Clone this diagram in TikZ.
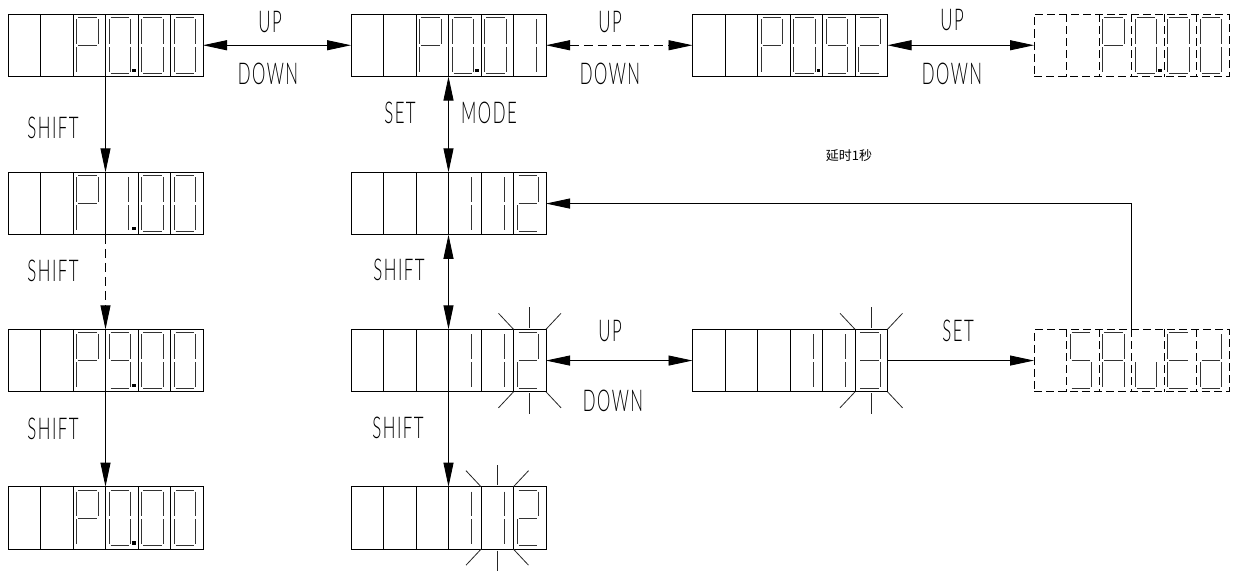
\documentclass[tikz,border=0pt]{standalone}
\usepackage{fontspec}
\newfontfamily\cadfont[FakeStretch=0.56,LetterSpace=5]{Lato Light}
\newfontfamily\cjkfont{Noto Sans CJK SC}
\usetikzlibrary{arrows.meta}

% seven-segment pieces (cell-relative, y downwards)
\newcommand\segdefa{\draw[sg] (5,3.5) -- (23.5,3.5);}
\newcommand\segdefb{\draw[sg] (25,5) -- (25,29.75);}
\newcommand\segdefc{\draw[sg] (25,32.75) -- (25,57.5);}
\newcommand\segdefd{\draw[sg] (5,59) -- (23.5,59);}
\newcommand\segdefe{\draw[sg] (3.5,32.75) -- (3.5,57.5);}
\newcommand\segdeff{\draw[sg] (3.5,5) -- (3.5,29.75);}
\newcommand\segdefg{\draw[sg] (5,31.25) -- (23.5,31.25);}
\newcommand\segdefj{\draw[sg] (23,5) -- (23,29.75);}
\newcommand\segdefk{\draw[sg] (23,32.75) -- (23,57.5);}
\newcommand\segdefp{\fill[black] (26.5,54.5) rectangle (30,58);}

\def\chP{a,b,e,f,g}
\def\chO{a,b,c,d,e,f}
\def\chI{j,k}
\def\chT{a,b,g,e,d}
\def\chH{a,b,g,c,d}
\def\chN{a,b,c,d,f,g}
\def\chS{a,f,g,c,d}
\def\chA{a,b,c,e,f,g}
\def\chU{c,d,e}
\def\chE{a,f,g,e,d}
\def\chD{b,c,d,e,g}

\tikzset{
  frame/.style={draw=black, line width=.9pt},
  dbox/.style={frame, minimum width=195pt, minimum height=62.5pt,
    inner sep=0pt, outer sep=0pt, anchor=north west},
  dsh/.style={dash pattern=on 8pt off 4pt},
  sg/.style={draw=black!80, line width=.8pt},
  conn/.style={draw=black, line width=.9pt},
  dconn/.style={conn, dash pattern=on 9pt off 5pt},
  ray/.style={draw=black!85, line width=.8pt},
  lbl/.style={font=\cadfont\fontsize{30}{31}\selectfont, text=black, inner sep=0pt},
  >={Triangle[length=24pt,width=10pt]},
  pics/dg/.style={code={\edef\mylist{#1}\foreach \s in \mylist {\csname segdef\s\endcsname}}},
  pics/blink/.style={code={
    \draw[ray] (16.25,-1.5) -- (16.25,-22);
    \draw[ray] (0,0) -- (-15,-16);
    \draw[ray] (32.5,0) -- (47.5,-16);
    \draw[ray] (16.25,64) -- (16.25,84.5);
    \draw[ray] (0,62.5) -- (-15,78.5);
    \draw[ray] (32.5,62.5) -- (47.5,78.5);
  }}
}

% display: name, position, extra style, list of cell/char
\newcommand\display[4]{%
  \node[dbox,#3] (#1) at (#2) {};
  \foreach \k in {1,...,5}
    \draw[frame,#3] ([xshift=\k*32.5pt]#1.north west) -- ([xshift=\k*32.5pt]#1.south west);
  \foreach \i/\cc in {#4}
    \pic at ([xshift=(\i-1)*32.5pt]#1.north west) {dg=\csname ch\cc\endcsname};
}
\newcommand\dpoint[2]{\pic at ([xshift=(#2-1)*32.5pt]#1.north west) {dg=p};}

\begin{document}
\begin{tikzpicture}[x=1pt,y=-1pt]
\useasboundingbox (0,0) rectangle (1236,570);

% top row
\display{d1}{8,14}{}{3/P,4/O,5/O,6/O}\dpoint{d1}{4}
\display{d2}{351,14}{}{3/P,4/O,5/O,6/I}\dpoint{d2}{4}
\display{d3}{692.5,14}{}{3/P,4/O,5/N,6/T}\dpoint{d3}{4}
\display{d4}{1034,14}{dsh}{3/P,4/O,5/O,6/O}\dpoint{d4}{4}

% left column
\display{d5}{8,172.3}{}{3/P,4/I,5/O,6/O}\dpoint{d5}{4}
\display{d6}{8,329.3}{}{3/P,4/N,5/O,6/O}\dpoint{d6}{4}
\display{d7}{8,486.7}{}{3/P,4/O,5/O,6/O}\dpoint{d7}{4}

% middle column
\display{m1}{351,172.3}{}{4/I,5/I,6/T}
\display{m2}{351,329.3}{}{4/I,5/I,6/T}
\display{m3}{351,486.7}{}{4/I,5/I,6/T}

% right part
\display{r3}{692.5,329.3}{}{4/I,5/I,6/H}
\display{sv}{1034,329.3}{dsh}{2/S,3/A,4/U,5/E,6/D}

% blinking digits
\pic at ([xshift=162.5pt]m2.north west) {blink};
\pic at ([xshift=130pt]m3.north west) {blink};
\pic at ([xshift=162.5pt]r3.north west) {blink};

% connectors
\draw[conn,<->] (d1.east) -- (d2.west);
\draw[dconn,<->] (d2.east) -- (d3.west);
\draw[conn,<->] (d3.east) -- (d4.west);

\draw[conn,->] ([xshift=97.5pt]d1.south west) -- ([xshift=97.5pt]d5.north west);
\draw[dconn,->] ([xshift=97.5pt]d5.south west) -- ([xshift=97.5pt]d6.north west);
\draw[conn,->] ([xshift=97.5pt]d6.south west) -- ([xshift=97.5pt]d7.north west);

\draw[conn,<->] ([xshift=97.5pt]d2.south west) -- ([xshift=97.5pt]m1.north west);
\draw[conn,<->] ([xshift=97.5pt]m1.south west) -- ([xshift=97.5pt]m2.north west);
\draw[conn,->] ([xshift=97.5pt]m2.south west) -- ([xshift=97.5pt]m3.north west);

\draw[conn,<->] (m2.east) -- (r3.west);
\draw[conn,->] (r3.east) -- (sv.west);
\draw[conn,->] ([xshift=97.5pt]sv.north west) |- (m1.east);

% labels
\node[lbl] (up1) at (270,22) {UP};
\node[lbl] (dn1) at (268,74) {DOWN};
\node[lbl] (up2) at (610,22) {UP};
\node[lbl] (dn2) at (610,74) {DOWN};
\node[lbl] (up3) at (952,20) {UP};
\node[lbl] (dn3) at (952,74) {DOWN};
\node[lbl] (sh1) at (53,128) {SHIFT};
\node[lbl] (sh2) at (53,271) {SHIFT};
\node[lbl] (sh3) at (53,429) {SHIFT};
\node[lbl] (set1) at (400,113) {SET};
\node[lbl] (mode) at (489,113) {MODE};
\node[lbl] (sh4) at (399,270) {SHIFT};
\node[lbl] (sh5) at (398,428) {SHIFT};
\node[lbl] (up4) at (610,331) {UP};
\node[lbl] (dn4) at (613,401) {DOWN};
\node[lbl] (set2) at (958,331) {SET};
\node[font=\cjkfont\fontsize{13}{13}\selectfont, inner sep=0pt] (dly) at (849,156) {延时1秒};
\end{tikzpicture}
\end{document}
